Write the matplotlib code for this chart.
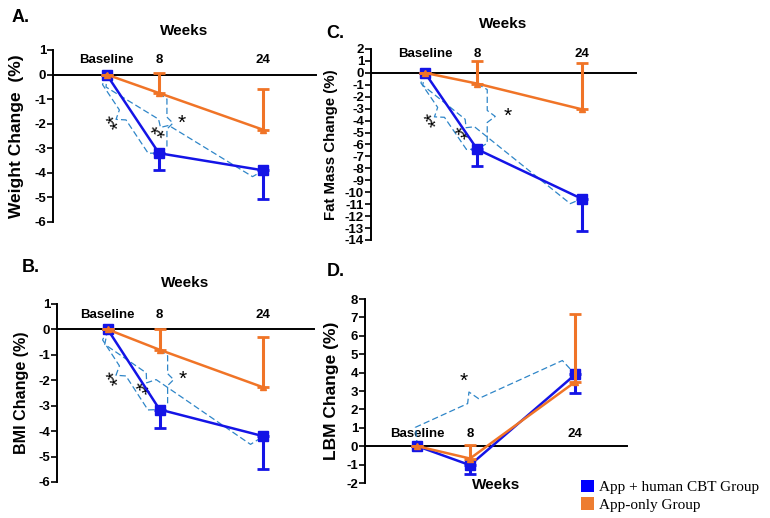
import numpy as np
import matplotlib
matplotlib.use("Agg")
import matplotlib.pyplot as plt
from matplotlib.patches import Patch

# ---------------- data ----------------
weeks = [0, 8, 24]
week_labels = ["Baseline", "8", "24"]
group_names = ["App + human CBT Group", "App-only Group"]

weight_cbt = [0, -3.2, -3.9]
weight_cbt_err = [0, 0.7, 1.15]
weight_app = [0, -0.75, -2.25]
weight_app_err = [0, 0.82, 1.67]

fat_cbt = [0, -6.4, -10.55]
fat_cbt_err = [0, 1.4, 2.7]
fat_app = [0, -0.9, -3.05]
fat_app_err = [0, 1.9, 3.9]

bmi_cbt = [0, -3.15, -4.2]
bmi_cbt_err = [0, 0.73, 1.3]
bmi_app = [0, -0.8, -2.28]
bmi_app_err = [0, 0.8, 2.0]

lbm_cbt = [0, -1.03, 3.9]
lbm_cbt_err = [0, 0.5, 1.03]
lbm_app = [0, -0.67, 3.5]
lbm_app_err = [0, 0.72, 3.7]

# ---------------- style ----------------
BLUE = "#1414e6"
ORANGE = "#f07427"
LEG_BLUE = "#0000ff"
LEG_ORANGE = "#ed7d31"
BRACE = "#2f86c8"
SANS = ["Liberation Sans", "DejaVu Sans"]
SERIF = ["Liberation Serif", "DejaVu Serif"]

W, H = 770, 518
fig = plt.figure(figsize=(W / 100, H / 100), dpi=100)


def make_axes(x0, x1, top, bottom):
    return fig.add_axes([x0 / W, 1 - bottom / H, (x1 - x0) / W, (bottom - top) / H])


def setup(ax, xlim, ylim, ylabel, ylabel_size, ylabel_x, letter, letter_xy,
          weeks_y, xpad):
    ax.set_xlim(*xlim)
    ax.set_ylim(*ylim)
    for s in ["right", "bottom"]:
        ax.spines[s].set_visible(False)
    ax.spines["top"].set_position(("data", 0))
    ax.spines["top"].set_linewidth(1.4)
    ax.spines["left"].set_linewidth(1.4)
    ax.xaxis.tick_top()
    ax.set_xticks(weeks)
    ax.set_xticklabels(week_labels, fontfamily=SANS, fontweight="bold",
                       fontsize=9.5)
    ax.tick_params(axis="x", length=0, pad=xpad)
    yt = np.arange(ylim[0], ylim[1] + 1, 1)
    ax.set_yticks(yt)
    ax.set_yticklabels([f"{int(v)}" for v in yt],
                       fontfamily=SANS, fontweight="bold", fontsize=9.5)
    ax.tick_params(axis="y", direction="out", length=4, width=1.2, pad=1)
    ax.set_ylabel(ylabel, fontfamily=SANS, fontweight="bold",
                  fontsize=ylabel_size)
    ax.yaxis.set_label_coords(ylabel_x, 0.5)
    ax.patch.set_visible(False)
    fig.text(letter_xy[0] / W, 1 - letter_xy[1] / H, letter,
             fontfamily=SANS, fontweight="bold", fontsize=13,
             ha="center", va="center")
    ax.text(0.5, weeks_y, "Weeks", transform=ax.transAxes, ha="center",
            va="center", fontfamily=SANS, fontweight="bold", fontsize=11)


def series(ax, cbt, cbt_err, app, app_err):
    ax.errorbar(weeks, cbt, yerr=[cbt_err, [0] * len(cbt_err)], color=BLUE,
                lw=1.8, marker="s", ms=6.5, capsize=4, capthick=2,
                elinewidth=2.2, clip_on=False, zorder=3)
    ax.errorbar(weeks, app, yerr=[[0] * len(app_err), app_err], color=ORANGE,
                lw=1.8, marker="^", ms=5, capsize=4, capthick=2,
                elinewidth=2.2, clip_on=False, zorder=4)


def brace(ax, p1, p2, side, d, tip_frac, tip, label, gap, rot=True):
    T = ax.transData
    a = np.array(T.transform(p1), dtype=float)
    b = np.array(T.transform(p2), dtype=float)
    v = b - a
    L = np.hypot(*v)
    u = v / L
    n = np.array([-u[1], u[0]]) * side
    h = min(6.0, 0.12 * L)
    m = a + u * L * tip_frac
    pts = np.array([a, a + n * d + u * h, m - u * h + n * d, m + n * (d + tip),
                    m + u * h + n * d, b - u * h + n * d, b])
    dat = T.inverted().transform(pts)
    ax.plot(dat[:, 0], dat[:, 1], ls=(0, (5, 2.5)), color=BRACE, lw=0.9,
            clip_on=False, zorder=2)
    lp = T.inverted().transform(m + n * (d + tip + gap))
    ang = np.degrees(np.arctan2(u[1], u[0])) if rot else 0
    ax.text(lp[0], lp[1], label, ha="center", va="center", rotation=ang,
            rotation_mode="anchor", fontsize=15, fontfamily=SANS,
            color="black")


# ---------------- A: weight ----------------
axA = make_axes(53, 316, 50, 222)
setup(axA, (-8.22, 32.05), (-6, 1), "Weight Change  (%)", 12.5, -0.11,
      "A.", (21, 17), 1.11, 6)
series(axA, weight_cbt, weight_cbt_err, weight_app, weight_app_err)
brace(axA, (weeks[0], weight_cbt[0]), (weeks[1], weight_cbt[1]), -1, 9, 0.45, 8, "**", 11)
brace(axA, (weeks[0], weight_cbt[0]), (weeks[2], weight_cbt[2]), -1, 11, 0.4, 6, "**", 10)
brace(axA, (weeks[1], weight_app[1]), (weeks[1], weight_cbt[1]), 1, 8, 0.5, 6, "*", 9, rot=False)

# ---------------- C: fat mass ----------------
axC = make_axes(371, 636, 49, 240)
setup(axC, (-8.26, 32.3), (-14, 2), "Fat Mass Change (%)", 10.8, -0.125,
      "C.", (335, 34), 1.13, 9)
series(axC, fat_cbt, fat_cbt_err, fat_app, fat_app_err)
brace(axC, (weeks[0], fat_cbt[0]), (weeks[1], fat_cbt[1]), -1, 9, 0.45, 8, "**", 11)
brace(axC, (weeks[0], fat_cbt[0]), (weeks[2], fat_cbt[2]), -1, 11, 0.33, 6, "**", 12)
brace(axC, (weeks[1], fat_app[1]), (weeks[1], fat_cbt[1]), 1, 10, 0.5, 8, "*", 12, rot=False)

# ---------------- B: BMI ----------------
axB = make_axes(57, 314, 304, 482)
setup(axB, (-7.82, 31.8), (-6, 1), "BMI Change (%)", 11.6, -0.109,
      "B.", (31, 267), 1.118, 6)
series(axB, bmi_cbt, bmi_cbt_err, bmi_app, bmi_app_err)
brace(axB, (weeks[0], bmi_cbt[0]), (weeks[1], bmi_cbt[1]), -1, 10, 0.45, 8, "**", 11)
brace(axB, (weeks[0], bmi_cbt[0]), (weeks[2], bmi_cbt[2]), -1, 14, 0.33, 8, "**", 12)
brace(axB, (weeks[1], bmi_app[1]), (weeks[1], bmi_cbt[1]), 1, 8, 0.5, 6, "*", 9, rot=False)

# ---------------- D: LBM ----------------
axD = make_axes(365, 627, 299, 483)
setup(axD, (-7.96, 31.86), (-2, 8), "LBM Change (%)", 12.5, -0.099,
      "D.", (336, 272), -0.012, 4.5)
series(axD, lbm_cbt, lbm_cbt_err, lbm_app, lbm_app_err)
brace(axD, (weeks[0], lbm_cbt[0]), (weeks[2], lbm_cbt[2]), 1, 18, 0.4, 10, "*", 12, rot=False)

# ---------------- legend ----------------
handles = [Patch(facecolor=LEG_BLUE, edgecolor="none"),
           Patch(facecolor=LEG_ORANGE, edgecolor="none")]
fig.legend(handles, group_names, loc="upper left",
           bbox_to_anchor=(581 / W, 1 - 480 / H), frameon=False,
           prop={"family": SERIF, "size": 11}, handlelength=0.85,
           handleheight=0.85, handletextpad=0.3, labelspacing=0.2,
           borderaxespad=0, borderpad=0)

fig.savefig("out.png", dpi=100)
